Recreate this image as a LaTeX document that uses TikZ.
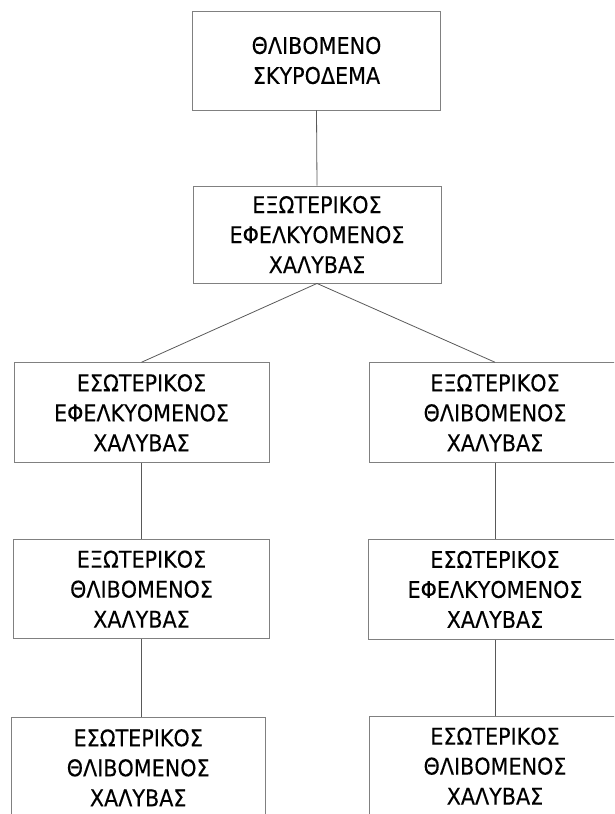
\documentclass[tikz,border=0pt]{standalone}
\usepackage{fontspec}
\setmainfont{DejaVu Sans}[FakeStretch=0.9,FakeBold=0.2]
\begin{document}
\begin{tikzpicture}[x=1pt,y=-1pt,
  box/.style={draw=black!50, line width=0.9pt, fill=white, align=center,
    inner sep=0pt, font=\fontsize{23}{30}\selectfont},
  link/.style={draw=black!65, line width=0.8pt}]
\useasboundingbox (0,0) rectangle (614,814);
\clip (0,0) rectangle (614,814);
\node[box, minimum width=248pt, minimum height=99pt] (top) at (316.5,60.5) {ΘΛΙΒΟΜΕΝΟ\\ΣΚΥΡΟΔΕΜΑ};
\node[box, minimum width=248pt, minimum height=97pt] (ext) at (317,234.5) {ΕΞΩΤΕΡΙΚΟΣ\\ΕΦΕΛΚΥΟΜΕΝΟΣ\\ΧΑΛΥΒΑΣ};
\node[box, minimum width=255pt, minimum height=100pt] (l3) at (141.5,412.7) {ΕΣΩΤΕΡΙΚΟΣ\\ΕΦΕΛΚΥΟΜΕΝΟΣ\\ΧΑΛΥΒΑΣ};
\node[box, minimum width=252pt, minimum height=100pt] (r3) at (495,412.7) {ΕΞΩΤΕΡΙΚΟΣ\\ΘΛΙΒΟΜΕΝΟΣ\\ΧΑΛΥΒΑΣ};
\node[box, minimum width=256pt, minimum height=99.5pt] (l4) at (141.5,589) {ΕΞΩΤΕΡΙΚΟΣ\\ΘΛΙΒΟΜΕΝΟΣ\\ΧΑΛΥΒΑΣ};
\node[box, minimum width=253pt, minimum height=100pt] (r4) at (495,589.3) {ΕΣΩΤΕΡΙΚΟΣ\\ΕΦΕΛΚΥΟΜΕΝΟΣ\\ΧΑΛΥΒΑΣ};
\node[box, minimum width=254pt, minimum height=100pt] (l5) at (138.2,767.7) {ΕΣΩΤΕΡΙΚΟΣ\\ΘΛΙΒΟΜΕΝΟΣ\\ΧΑΛΥΒΑΣ};
\node[box, minimum width=252pt, minimum height=100pt] (r5) at (495,766) {ΕΣΩΤΕΡΙΚΟΣ\\ΘΛΙΒΟΜΕΝΟΣ\\ΧΑΛΥΒΑΣ};
\draw[link] (top.south) -- (ext.north);
\draw[link] (ext.south) -- (l3.north);
\draw[link] (ext.south) -- (r3.north);
\draw[link] (l3.south) -- (l4.north);
\draw[link] (r3.south) -- (r4.north);
\draw[link] (l4.south) -- (l4.south |- l5.north);
\draw[link] (r4.south) -- (r5.north);
\end{tikzpicture}
\end{document}
